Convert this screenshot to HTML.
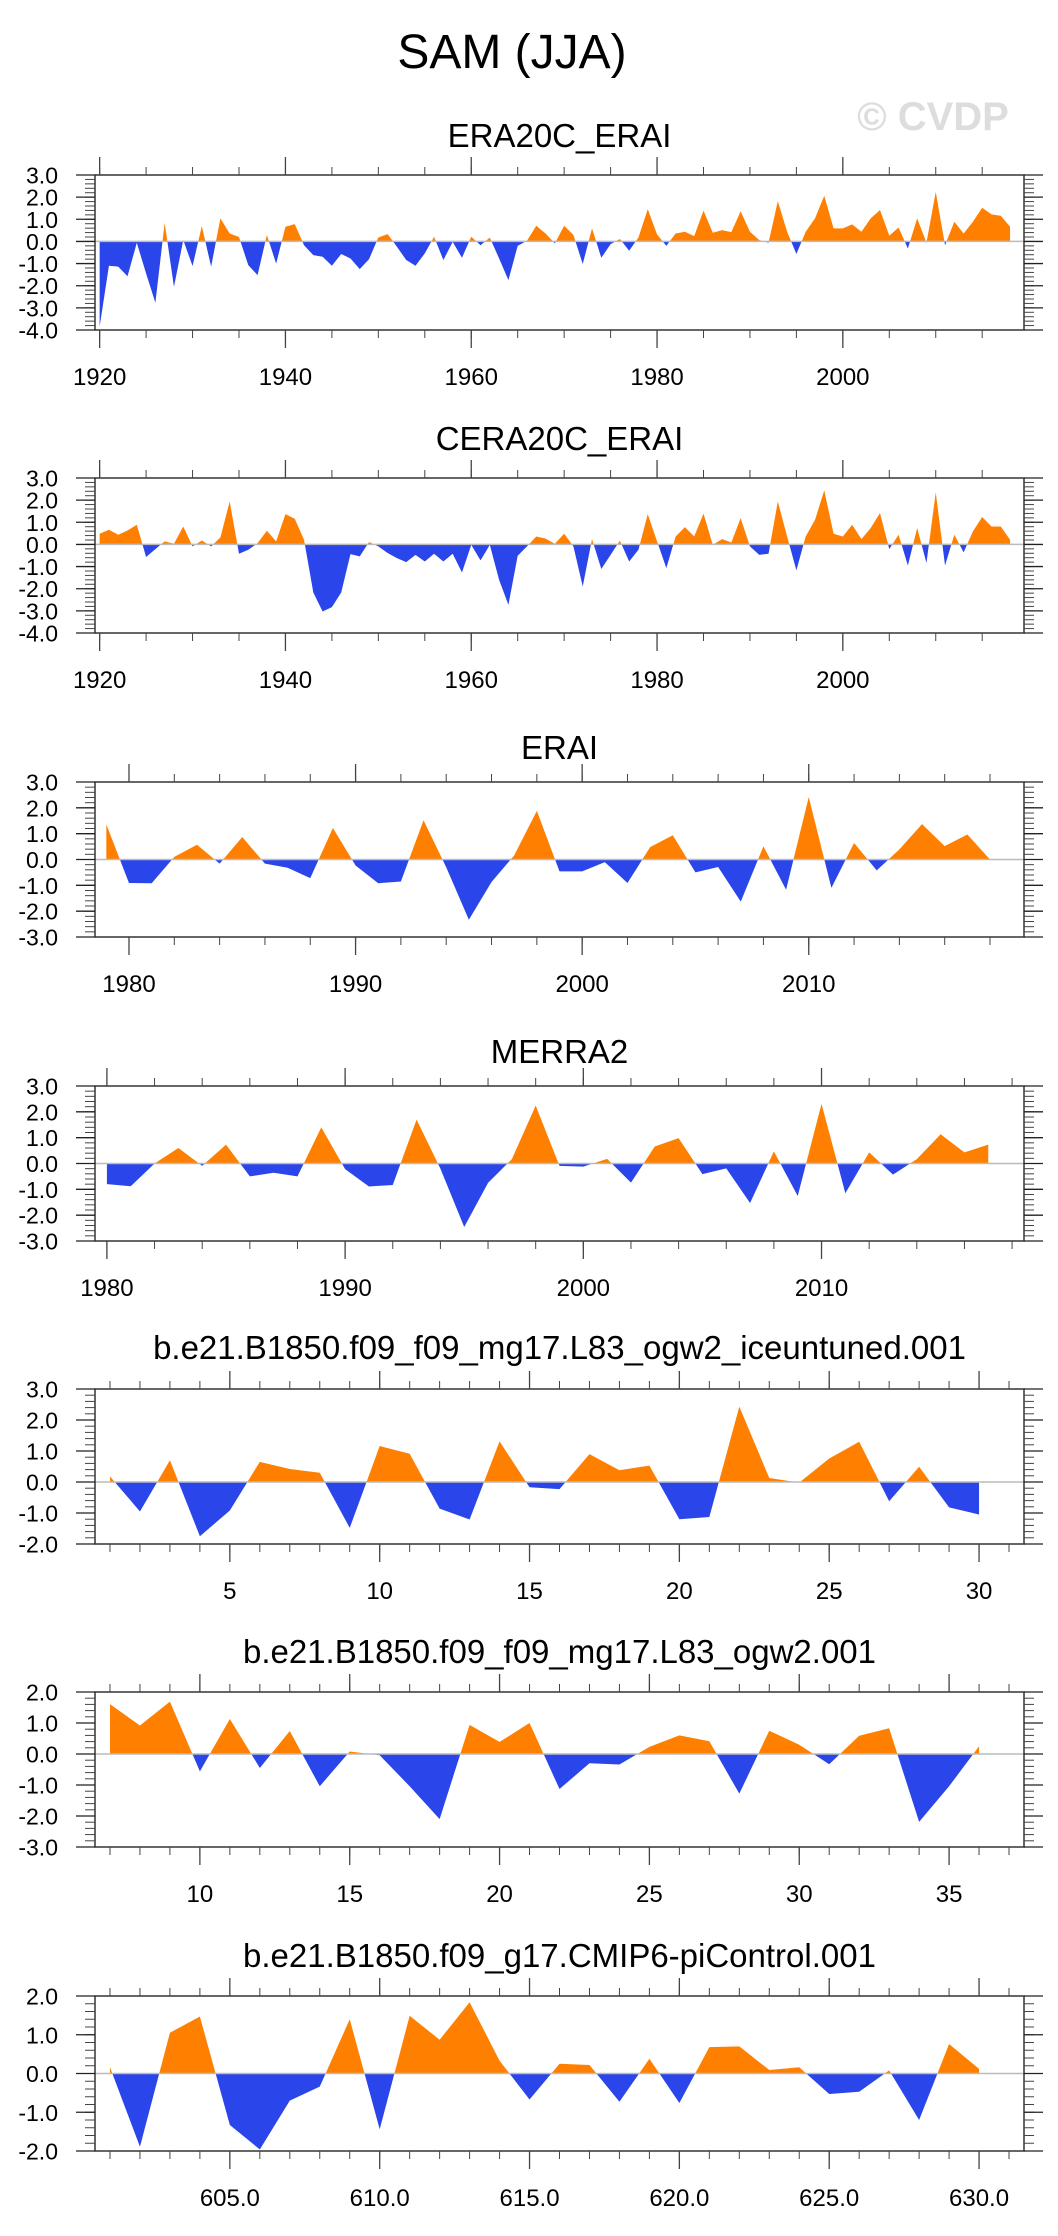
<!DOCTYPE html>
<html><head><meta charset="utf-8"><style>
html,body{margin:0;padding:0;background:#fff;}
svg{display:block;font-family:"Liberation Sans",sans-serif;}
</style></head><body>
<svg id="chart" width="1058" height="2236" viewBox="0 0 1058 2236" xmlns="http://www.w3.org/2000/svg">
<text x="512" y="68" font-size="48" text-anchor="middle">SAM (JJA)</text>
<text x="933" y="130" font-size="40" font-weight="bold" fill="#dddddd" text-anchor="middle">© CVDP</text>
</svg>
<script>
// ---- data arrays ----
const era20cYears0 = 1920;
const era20cValues = [-3.85,-1.1,-1.14,-1.57,-0.06,-1.45,-2.77,0.84,-2.05,0.06,-1.11,0.69,-1.14,1.04,0.36,0.2,-1.07,-1.52,0.29,-1.0,0.66,0.78,-0.17,-0.62,-0.69,-1.1,-0.57,-0.77,-1.25,-0.8,0.18,0.33,-0.24,-0.84,-1.1,-0.54,0.21,-0.84,-0.02,-0.74,0.21,-0.17,0.17,-0.77,-1.75,-0.2,0.03,0.71,0.36,-0.09,0.71,0.29,-1.02,0.59,-0.74,-0.12,0.11,-0.42,0.18,1.46,0.32,-0.2,0.36,0.44,0.24,1.39,0.39,0.51,0.42,1.36,0.44,0.06,-0.06,1.82,0.44,-0.57,0.44,1.04,2.06,0.59,0.59,0.77,0.44,1.04,1.42,0.26,0.63,-0.32,1.04,-0.06,2.24,-0.17,0.89,0.36,0.89,1.52,1.22,1.16,0.66];
const cera20cYears0 = 1920;
const cera20cValues = [0.48,0.66,0.44,0.63,0.89,-0.57,-0.21,0.14,0.03,0.81,-0.09,0.18,-0.09,0.32,1.94,-0.42,-0.24,0.06,0.62,0.14,1.37,1.16,0.21,-2.17,-3.03,-2.83,-2.17,-0.44,-0.54,0.11,-0.09,-0.39,-0.62,-0.8,-0.47,-0.77,-0.42,-0.77,-0.42,-1.27,-0.02,-0.72,-0.02,-1.6,-2.73,-0.51,-0.09,0.36,0.26,0.03,0.48,-0.09,-1.9,0.24,-1.11,-0.47,0.17,-0.77,-0.24,1.37,0.14,-1.07,0.36,0.78,0.36,1.39,-0.02,0.24,0.09,1.19,-0.09,-0.47,-0.42,1.94,0.36,-1.17,0.36,1.11,2.44,0.48,0.36,0.89,0.24,0.74,1.42,-0.21,0.44,-0.95,0.74,-0.84,2.35,-0.95,0.44,-0.36,0.59,1.24,0.81,0.81,0.21];
const eraiYears0 = 1979;
const eraiValues = [1.36,-0.91,-0.92,0.1,0.57,-0.16,0.87,-0.16,-0.32,-0.72,1.22,-0.23,-0.92,-0.85,1.52,-0.3,-2.33,-0.87,0.16,1.88,-0.46,-0.46,-0.1,-0.91,0.48,0.94,-0.5,-0.29,-1.63,0.51,-1.17,2.42,-1.1,0.64,-0.42,0.39,1.37,0.52,0.97,0.0];
const merra2Years0 = 1980;
const merra2Values = [-0.8,-0.88,0.0,0.6,-0.09,0.73,-0.5,-0.36,-0.5,1.4,-0.22,-0.89,-0.83,1.7,-0.2,-2.46,-0.75,0.17,2.24,-0.09,-0.12,0.18,-0.74,0.66,0.98,-0.41,-0.19,-1.53,0.47,-1.26,2.31,-1.15,0.43,-0.43,0.17,1.13,0.43,0.73];
const iceuntunedYears0 = 1;
const iceuntunedValues = [0.18,-0.95,0.7,-1.75,-0.92,0.65,0.42,0.3,-1.48,1.16,0.91,-0.86,-1.21,1.31,-0.17,-0.23,0.9,0.38,0.53,-1.2,-1.13,2.43,0.13,-0.02,0.76,1.3,-0.62,0.49,-0.82,-1.05];
const ogw2Years0 = 7;
const ogw2Values = [1.61,0.92,1.69,-0.56,1.13,-0.45,0.74,-1.04,0.08,-0.04,-1.04,-2.1,0.94,0.39,1.0,-1.13,-0.3,-0.34,0.23,0.6,0.41,-1.28,0.75,0.3,-0.33,0.59,0.83,-2.19,-1.04,0.25];
const picontrolYears0 = 601;
const picontrolValues = [0.16,-1.89,1.05,1.47,-1.33,-1.96,-0.7,-0.34,1.4,-1.44,1.49,0.87,1.84,0.33,-0.67,0.25,0.22,-0.73,0.38,-0.76,0.68,0.7,0.09,0.16,-0.53,-0.47,0.08,-1.2,0.76,0.12];
// tick label arrays
const xTicksCentury = [1920,1940,1960,1980,2000];
const xTicksDecade = [1980,1990,2000,2010];
const xTicksModel1 = [5,10,15,20,25,30];
const xTicksModel2 = [10,15,20,25,30,35];
const xTicksPi = ["605.0","610.0","615.0","620.0","625.0","630.0"];
const yTicks7 = ["3.0","2.0","1.0","0.0","-1.0","-2.0","-3.0","-4.0"];
const yTicks6 = ["3.0","2.0","1.0","0.0","-1.0","-2.0","-3.0"];
const yTicks5a = ["3.0","2.0","1.0","0.0","-1.0","-2.0"];
const yTicks5b = ["2.0","1.0","0.0","-1.0","-2.0","-3.0"];

const NS = "http://www.w3.org/2000/svg";
const svg = document.getElementById('chart');
function mk(tag, attrs, parent){const e=document.createElementNS(NS,tag);for(const k in attrs)e.setAttribute(k,attrs[k]);(parent||svg).appendChild(e);return e;}

const BX0=95, BX1=1024;
function panel(p){
  const g=mk('g',{});
  
  
  const top=p.top, bot=p.top+155;
  const xs=v=>BX0+(v-p.xmin)/(p.xmax-p.xmin)*(BX1-BX0);
  const ys=v=>top+(p.ymax-v)/(p.ymax-p.ymin)*(bot-top);
  const t=mk('text',{x:559.5,y:p.titleY,'font-size':33,'text-anchor':'middle'},g);
  t.textContent=p.title;
  
  
  // build points with zero-crossings
  const pts=[];
  const vals=p.values;
  for(let i=0;i<vals.length;i++){
    const x=p.x0+i, v=vals[i];
    if(i>0){const pv=vals[i-1];if((pv>0&&v<0)||(pv<0&&v>0)){const f=pv/(pv-v);pts.push([x-1+f,0]);}}
    pts.push([x,v]);
  }
  const mkPoly=(fn,color,nm)=>{
    let d='M'+xs(pts[0][0])+','+ys(0);
    pts.forEach(q=>{d+=' L'+xs(q[0]).toFixed(2)+','+ys(fn(q[1])).toFixed(2);});
    d+=' L'+xs(pts[pts.length-1][0])+','+ys(0)+' Z';
    const e=mk('path',{d:d,fill:color,stroke:'none'},g);
    
    
  };
  mkPoly(v=>Math.max(v,0),'#ff8000',p.name+'-positive-area');
  mkPoly(v=>Math.min(v,0),'#2a45ea',p.name+'-negative-area');
  const z=mk('line',{x1:BX0,x2:BX1,y1:ys(0),y2:ys(0),stroke:'#bbbbbb','stroke-width':1.5},g);
  
  
  const box=mk('rect',{x:BX0,y:top,width:BX1-BX0,height:bot-top,fill:'none',stroke:'#333','stroke-width':1.5},g);
  
  
  const tk='#444';
  // x minor ticks
  for(let v=p.minorStart; v<=p.xmax; v+=p.minorStep){
    const x=xs(v);
    mk('line',{x1:x,x2:x,y1:bot,y2:bot+8,stroke:tk,'stroke-width':1},g);
    mk('line',{x1:x,x2:x,y1:top,y2:top-8,stroke:tk,'stroke-width':1},g);
  }
  p.xTicks.forEach(lbl=>{
    const v=parseFloat(lbl), x=xs(v);
    mk('line',{x1:x,x2:x,y1:bot,y2:bot+18,stroke:tk,'stroke-width':1.3},g);
    mk('line',{x1:x,x2:x,y1:top,y2:top-18,stroke:tk,'stroke-width':1.3},g);
    const e=mk('text',{x:x,y:bot+55,'font-size':24,'text-anchor':'middle'},g);
    e.textContent=lbl;
    
    
  });
  // y ticks
  for(let k=0;k<=Math.round((p.ymax-p.ymin)*5);k++){
    const v=p.ymin+k*0.2, y=ys(v);
    mk('line',{x1:BX0,x2:BX0-10,y1:y,y2:y,stroke:tk,'stroke-width':1},g);
    mk('line',{x1:BX1,x2:BX1+10,y1:y,y2:y,stroke:tk,'stroke-width':1},g);
  }
  p.yTicks.forEach(lbl=>{
    const v=parseFloat(lbl), y=ys(v);
    mk('line',{x1:BX0,x2:BX0-19,y1:y,y2:y,stroke:'#222','stroke-width':1.3},g);
    mk('line',{x1:BX1,x2:BX1+19,y1:y,y2:y,stroke:'#222','stroke-width':1.3},g);
    const e=mk('text',{x:58,y:y+8.5,'font-size':23,'text-anchor':'end'},g);
    e.textContent=lbl;
    
    
  });
}
panel({name:'era20c-erai',title:'ERA20C_ERAI',titleY:147,top:175,values:era20cValues,x0:era20cYears0,xmin:1919.5,xmax:2019.5,ymin:-4,ymax:3,minorStart:1920,minorStep:5,xTicks:xTicksCentury.map(String),yTicks:yTicks7});
panel({name:'cera20c-erai',title:'CERA20C_ERAI',titleY:450,top:478,values:cera20cValues,x0:cera20cYears0,xmin:1919.5,xmax:2019.5,ymin:-4,ymax:3,minorStart:1920,minorStep:5,xTicks:xTicksCentury.map(String),yTicks:yTicks7});
panel({name:'erai',title:'ERAI',titleY:759,top:782,values:eraiValues,x0:eraiYears0,xmin:1978.5,xmax:2019.5,ymin:-3,ymax:3,minorStart:1980,minorStep:2,xTicks:xTicksDecade.map(String),yTicks:yTicks6});
panel({name:'merra2',title:'MERRA2',titleY:1063,top:1086,values:merra2Values,x0:merra2Years0,xmin:1979.5,xmax:2018.5,ymin:-3,ymax:3,minorStart:1980,minorStep:2,xTicks:xTicksDecade.map(String),yTicks:yTicks6});
panel({name:'iceuntuned',title:'b.e21.B1850.f09_f09_mg17.L83_ogw2_iceuntuned.001',titleY:1359,top:1389,values:iceuntunedValues,x0:iceuntunedYears0,xmin:0.5,xmax:31.5,ymin:-2,ymax:3,minorStart:1,minorStep:1,xTicks:xTicksModel1.map(String),yTicks:yTicks5a});
panel({name:'ogw2',title:'b.e21.B1850.f09_f09_mg17.L83_ogw2.001',titleY:1663,top:1692,values:ogw2Values,x0:ogw2Years0,xmin:6.5,xmax:37.5,ymin:-3,ymax:2,minorStart:7,minorStep:1,xTicks:xTicksModel2.map(String),yTicks:yTicks5b});
panel({name:'picontrol',title:'b.e21.B1850.f09_g17.CMIP6-piControl.001',titleY:1967,top:1996,values:picontrolValues,x0:picontrolYears0,xmin:600.5,xmax:631.5,ymin:-2,ymax:2,minorStart:601,minorStep:1,xTicks:xTicksPi,yTicks:["2.0","1.0","0.0","-1.0","-2.0"]});
</script>
</body></html>
